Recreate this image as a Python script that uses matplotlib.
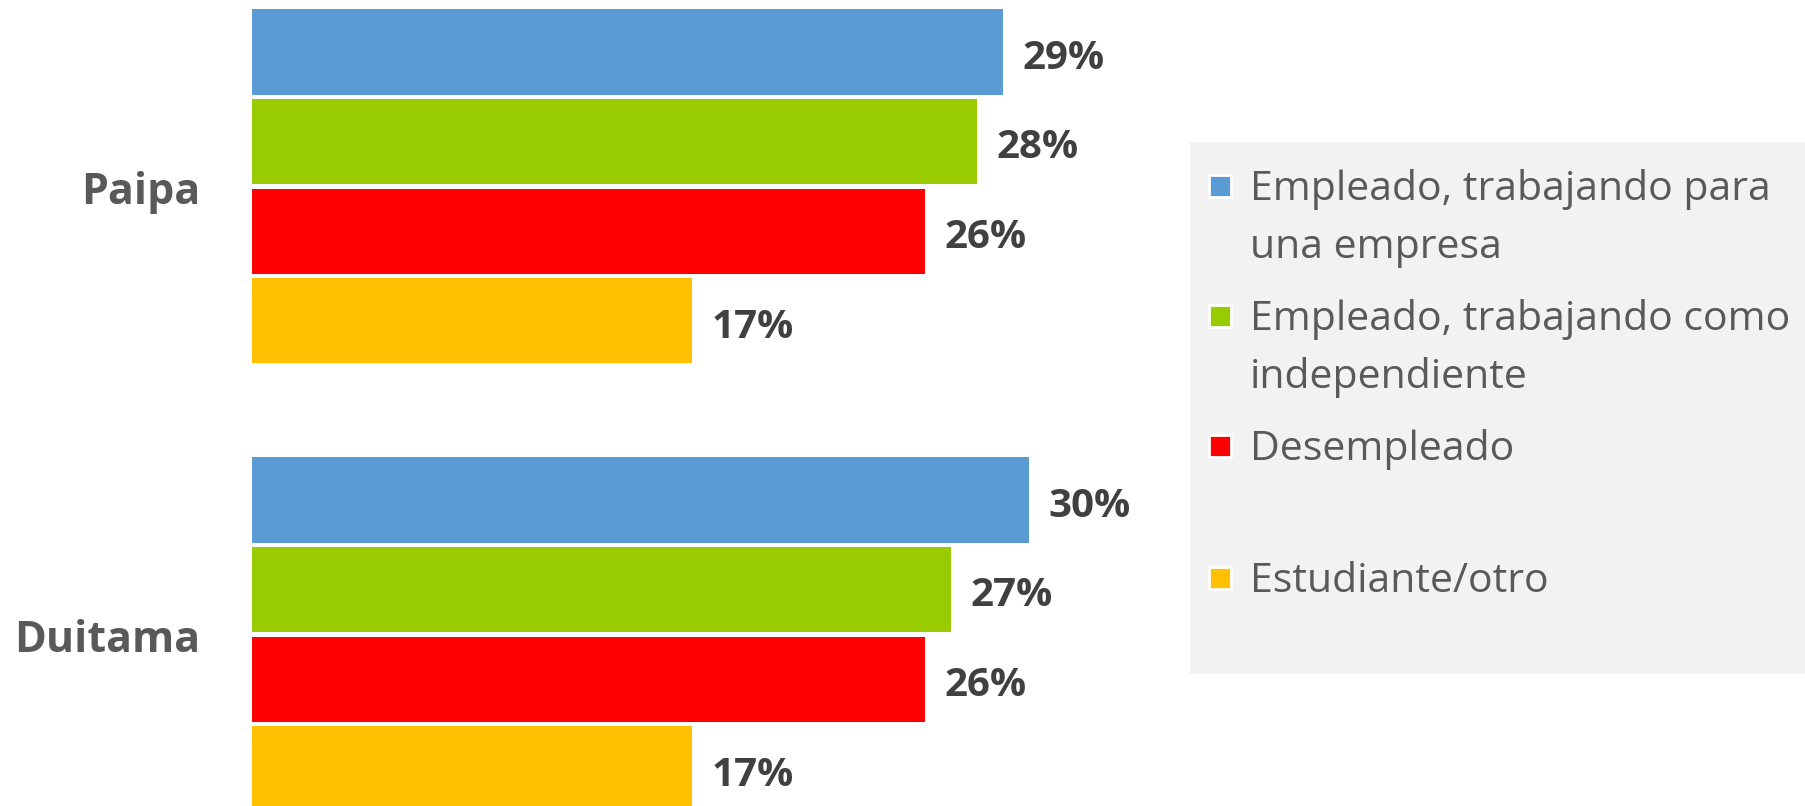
import matplotlib
matplotlib.use("Agg")
import matplotlib.pyplot as plt
from matplotlib.patches import Rectangle
import numpy as np

# ---- data ----
cities = ["Paipa", "Duitama"]
series = ["Empleado, trabajando para\nuna empresa",
          "Empleado, trabajando como\nindependiente",
          "Desempleado",
          "Estudiante/otro"]
paipa = [29, 28, 26, 17]
duitama = [30, 27, 26, 17]
values = [paipa, duitama]
colors = ["#5B9BD5", "#99CC00", "#FF0000", "#FFC000"]

W, H = 1806, 806
fig = plt.figure(figsize=(W / 100, H / 100), dpi=100)
fig.patch.set_facecolor("white")

FONT = "Open Sans"
DARK = "#404040"
GREY = "#595959"

# axes: left edge at x=252 px, spans full height
ax_left = 252 / W
ax_right = 1150 / W
ax = fig.add_axes([ax_left, 0, ax_right - ax_left, 1])
px_per_unit = 25.9
ax.set_xlim(0, (1150 - 252) / px_per_unit)
slot = 89.6
ax.set_ylim(-2.08 + H / slot, -2.08)

group_gap = 5.0
for g, vals in enumerate(values):
    for i, v in enumerate(vals):
        y = g * group_gap + (i - 1.5)
        ax.barh(y, v, height=0.95, color=colors[i], edgecolor="none")
        ax.text(v + 19 / px_per_unit, y + 0.07, f"{v}%", va="center", ha="left",
                fontsize=29, fontweight="bold", color=DARK, family=FONT)
    ax.text(-52 / px_per_unit, g * group_gap + 0.07, cities[g], va="center", ha="right",
            fontsize=31, fontweight="bold", color=GREY, family=FONT, clip_on=False)

ax.axis("off")

# ---- legend (manual) ----
fig.patches.append(Rectangle((1190 / W, 1 - 674 / H), (W - 1190) / W, (674 - 142) / H,
                             transform=fig.transFigure, facecolor="#F2F2F2",
                             edgecolor="none", zorder=0))
item_y = [186, 316, 446, 578]
line_step = 58
for i, (lab, c) in enumerate(zip(series, colors)):
    yc = item_y[i]
    s = 22
    fig.patches.append(Rectangle((1209 / W, 1 - (yc + s / 2) / H), s / W, s / H,
                                 transform=fig.transFigure, facecolor=c,
                                 edgecolor="white", linewidth=2, zorder=2))
    for k, line in enumerate(lab.split("\n")):
        base = yc + 14 + k * line_step
        fig.text(1250 / W, 1 - base / H, line, ha="left", va="baseline",
                 fontsize=29.5, color=GREY, family=FONT)

fig.savefig("out.png", dpi=100, facecolor="white")
